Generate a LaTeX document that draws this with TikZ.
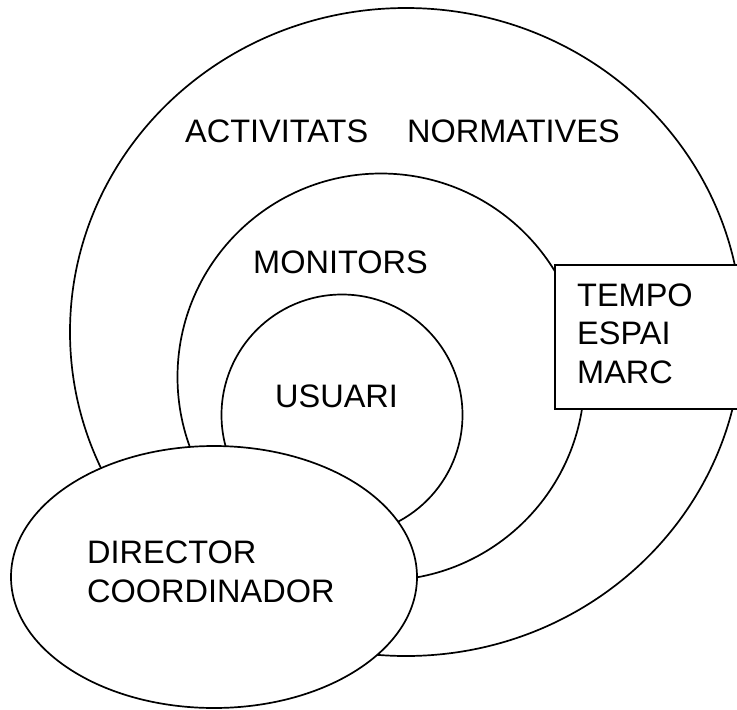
\documentclass[tikz,border=0pt]{standalone}
\usepackage{fontspec}
\setmainfont{Liberation Sans}
\usetikzlibrary{shapes.geometric}

\begin{document}
\begin{tikzpicture}[x=1pt, y=-1pt,
  ring/.style={
    circle, draw=black, line width=1.7pt,
    inner sep=0pt, outer sep=0pt
  },
  oval/.style={
    ellipse, draw=black, line width=1.7pt,
    inner sep=0pt, outer sep=0pt
  },
  framebox/.style={
    rectangle, draw=black, fill=white, line width=1.7pt,
    inner sep=0pt, outer sep=0pt, anchor=north west
  },
  lbl/.style={
    font=\fontsize{32.5}{38.5}\selectfont,
    inner sep=0pt, anchor=base west, align=left
  }
]
\useasboundingbox (0,0) rectangle (737,710);
\clip (0,0) rectangle (737,710);

% rings, outermost first
\node[oval, minimum width=672pt, minimum height=648pt] (activitats) at (406,332) {};
\node[ring, minimum size=407pt] (monitors) at (381,377) {};
\node[ring, minimum size=241pt] (usuari) at (342,415) {};

% box on the right and the director oval on top
\node[framebox, minimum width=200pt, minimum height=144pt] (marc) at (555,265) {};
\node[oval, fill=white, minimum width=406pt, minimum height=262pt] (director) at (214,577) {};

% texts (multi-line ones sit on their last line)
\node[lbl] (actTxt) at (185,142) {ACTIVITATS};
\node[lbl] (normTxt) at (407,142) {NORMATIVES};
\node[lbl] (monTxt) at (253,273) {MONITORS};
\node[lbl] (usuTxt) at (275,407) {USUARI};
\node[lbl] (marcTxt) at (577,383) {TEMPO\\ESPAI\\MARC};
\node[lbl] (dirTxt) at (87,602) {DIRECTOR\\COORDINADOR};
\end{tikzpicture}
\end{document}
